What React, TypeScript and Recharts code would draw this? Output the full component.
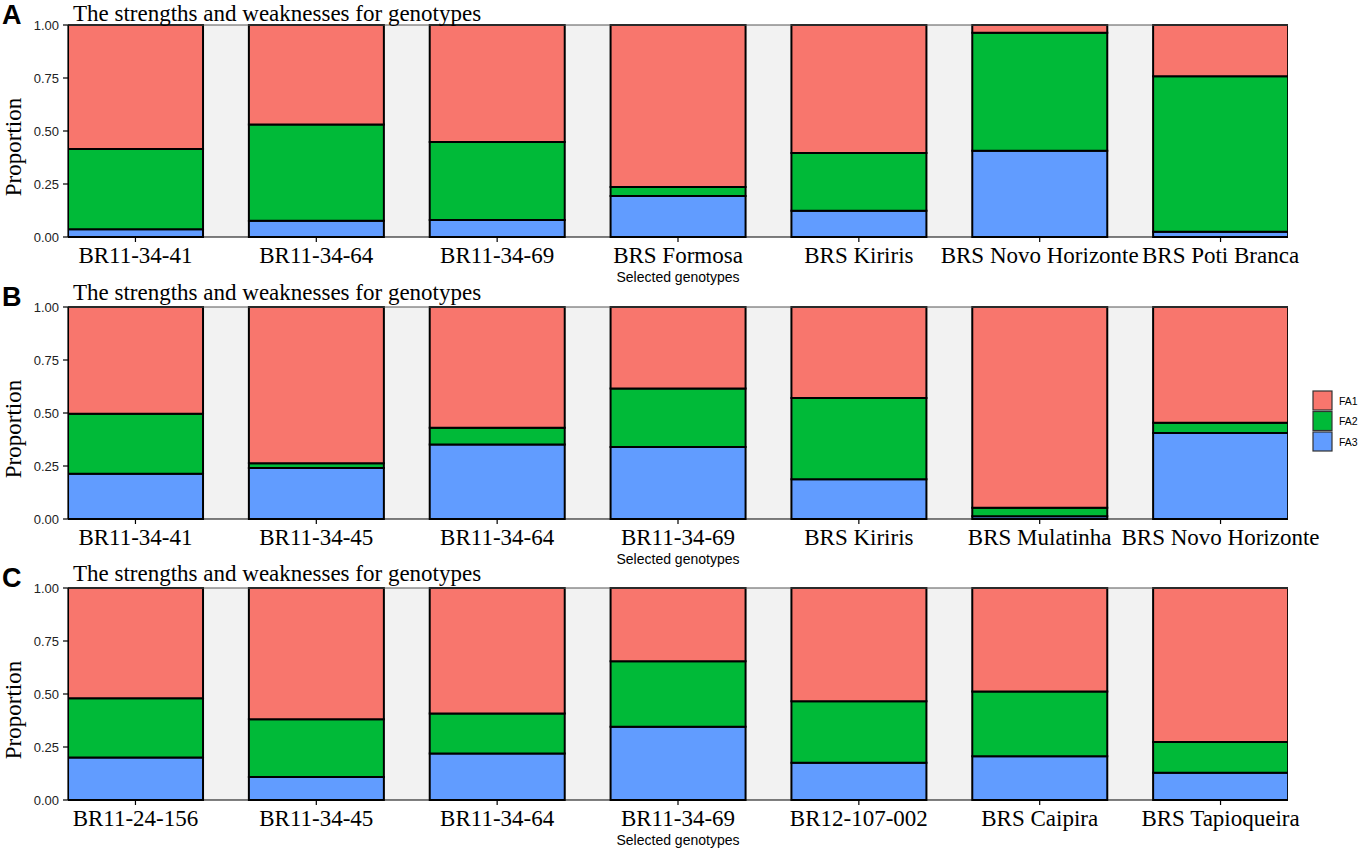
import React from "react";
import { Bar, BarChart, CartesianGrid, ReferenceLine, XAxis, YAxis } from "recharts";

const genotypesA = ["BR11-34-41", "BR11-34-64", "BR11-34-69", "BRS Formosa", "BRS Kiriris", "BRS Novo Horizonte", "BRS Poti Branca"];
const fa1A = [0.585, 0.469, 0.552, 0.764, 0.604, 0.036, 0.242];
const fa2A = [0.379, 0.454, 0.368, 0.043, 0.272, 0.557, 0.733];
const fa3A = [0.036, 0.077, 0.08, 0.193, 0.124, 0.407, 0.025];

const genotypesB = ["BR11-34-41", "BR11-34-45", "BR11-34-64", "BR11-34-69", "BRS Kiriris", "BRS Mulatinha", "BRS Novo Horizonte"];
const fa1B = [0.503, 0.737, 0.569, 0.384, 0.429, 0.947, 0.546];
const fa2B = [0.283, 0.022, 0.08, 0.276, 0.384, 0.04, 0.048];
const fa3B = [0.214, 0.241, 0.351, 0.34, 0.187, 0.013, 0.406];

const genotypesC = ["BR11-24-156", "BR11-34-45", "BR11-34-64", "BR11-34-69", "BR12-107-002", "BRS Caipira", "BRS Tapioqueira"];
const fa1C = [0.52, 0.619, 0.592, 0.346, 0.534, 0.488, 0.726];
const fa2C = [0.28, 0.272, 0.189, 0.309, 0.29, 0.306, 0.145];
const fa3C = [0.2, 0.109, 0.219, 0.345, 0.176, 0.206, 0.129];

const yTicks = [0, 0.25, 0.5, 0.75, 1];
const seriesNames = ["FA1", "FA2", "FA3"];
const seriesColors = ["#F8766D", "#00BA38", "#619CFF"];

const SERIF = "'Liberation Serif', 'Times New Roman', serif";
const SANS = "'Liberation Sans', Arial, sans-serif";

// plot area: x 68..1288, each panel 212px tall
const PLOT_LEFT = 68;
const PLOT_RIGHT = 1288;
const PLOT_H = 212;
const BAR_W = 135;
const HALF = 0.373; // half bar width in category units
const panels = [
  { letter: "A", top: 25, names: genotypesA, fa1: fa1A, fa2: fa2A, fa3: fa3A },
  { letter: "B", top: 307, names: genotypesB, fa1: fa1B, fa2: fa2B, fa3: fa3B },
  { letter: "C", top: 588, names: genotypesC, fa1: fa1C, fa2: fa2C, fa3: fa3C },
];

function Panel({ p }: { p: (typeof panels)[number] }) {
  const rows = p.names.map((name, i) => ({
    pos: i,
    name,
    FA1: p.fa1[i],
    FA2: p.fa2[i],
    FA3: p.fa3[i],
  }));
  const chartTop = p.top - 25;
  return (
    <div style={{ position: "absolute", left: 0, top: chartTop }}>
      <BarChart
        width={1358}
        height={282}
        data={rows}
        margin={{ top: 25, right: 1358 - PLOT_RIGHT, bottom: 0, left: 0 }}
      >
        <CartesianGrid horizontal={false} vertical={false} fill="#F2F2F2" />
        <XAxis
          type="number"
          dataKey="pos"
          domain={[-HALF, 6 + HALF]}
          allowDataOverflow
          ticks={[0, 1, 2, 3, 4, 5, 6]}
          interval={0}
          tickFormatter={(v: number) => p.names[v] ?? ""}
          height={45}
          tickSize={5}
          tickMargin={5}
          axisLine={{ stroke: "#000", strokeWidth: 1.2 }}
          tickLine={{ stroke: "#000", strokeWidth: 1.2 }}
          tick={{ fill: "#000", fontSize: 23, fontFamily: SERIF }}
        />
        <YAxis
          type="number"
          domain={[0, 1]}
          ticks={yTicks}
          width={PLOT_LEFT}
          tickSize={5}
          tickMargin={4}
          tickFormatter={(v: number) => v.toFixed(2)}
          axisLine={{ stroke: "#000", strokeWidth: 1.2 }}
          tickLine={{ stroke: "#000", strokeWidth: 1.2 }}
          tick={{ fill: "#222", fontSize: 13, fontFamily: SANS }}
        />
        <ReferenceLine y={1} stroke="#555" strokeWidth={1} />
        <Bar dataKey="FA3" stackId="s" barSize={BAR_W} fill={seriesColors[2]} stroke="#000" strokeWidth={2} isAnimationActive={false} />
        <Bar dataKey="FA2" stackId="s" barSize={BAR_W} fill={seriesColors[1]} stroke="#000" strokeWidth={2} isAnimationActive={false} />
        <Bar dataKey="FA1" stackId="s" barSize={BAR_W} fill={seriesColors[0]} stroke="#000" strokeWidth={2} isAnimationActive={false} />
      </BarChart>
    </div>
  );
}

export default function App() {
  const midX = (PLOT_LEFT + PLOT_RIGHT) / 2;
  return (
    <div style={{ position: "absolute", left: 0, top: 0, width: 1358, height: 848, background: "#fff", overflow: "hidden" }}>
      {panels.map((p) => (
        <Panel key={p.letter} p={p} />
      ))}
      <svg width={1358} height={848} style={{ position: "absolute", left: 0, top: 0, pointerEvents: "none" }}>
        {panels.map((p) => (
          <g key={p.letter}>
            <text x={2} y={p.top - 1} fontFamily={SANS} fontWeight={700} fontSize={27} fill="#000">
              {p.letter}
            </text>
            <text x={73} y={Math.max(p.top - 7, 21)} fontFamily={SERIF} fontSize={23} fill="#000">
              The strengths and weaknesses for genotypes
            </text>
            <text
              transform={`translate(21, ${p.top + PLOT_H / 2 + 16}) rotate(-90)`}
              textAnchor="middle"
              fontFamily={SERIF}
              fontSize={23}
              fill="#000"
            >
              Proportion
            </text>
            <text x={midX} y={p.top + PLOT_H + 45} textAnchor="middle" fontFamily={SANS} fontSize={14} fill="#000">
              Selected genotypes
            </text>
          </g>
        ))}
        {seriesNames.map((name, i) => (
          <g key={name}>
            <rect x={1313} y={391 + i * 20.5} width={19} height={19} fill={seriesColors[i]} stroke="#333" strokeWidth={1.2} />
            <text x={1339} y={391 + i * 20.5 + 13.5} fontFamily={SANS} fontSize={10.5} fill="#000">
              {name}
            </text>
          </g>
        ))}
      </svg>
    </div>
  );
}
